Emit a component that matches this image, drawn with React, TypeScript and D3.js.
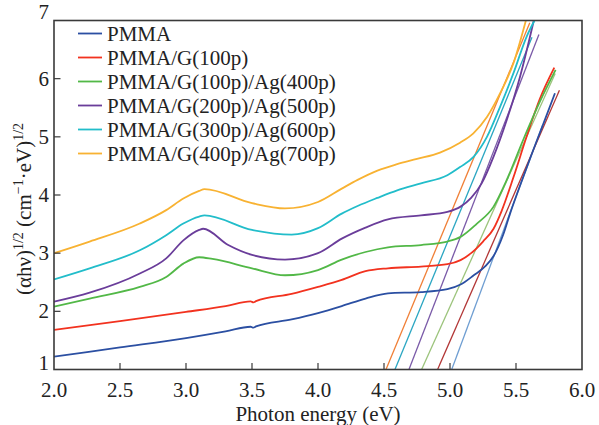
import React from "react";
import * as d3 from "d3";

// Tauc plot: (αhν)^1/2 versus photon energy for PMMA-based films
type Pt = [number, number];

const seriesNames = [
  "PMMA",
  "PMMA/G(100p)",
  "PMMA/G(100p)/Ag(400p)",
  "PMMA/G(200p)/Ag(500p)",
  "PMMA/G(300p)/Ag(600p)",
  "PMMA/G(400p)/Ag(700p)",
];

const pmma: Pt[] = [
  [2.0, 1.22], [2.5, 1.38], [3.0, 1.54], [3.3, 1.655], [3.49, 1.735], [3.51, 1.72],
  [3.53, 1.74], [3.8, 1.86], [4.0, 1.97], [4.18, 2.09], [4.36, 2.22], [4.53, 2.31],
  [4.78, 2.33], [4.98, 2.38], [5.08, 2.46], [5.18, 2.62], [5.27, 2.78], [5.33, 2.95],
  [5.4, 3.3], [5.455, 3.68], [5.54, 4.22], [5.63, 4.77], [5.72, 5.3], [5.795, 5.75],
];

const pmmaG100: Pt[] = [
  [2.0, 1.68], [2.5, 1.83], [3.0, 1.99], [3.3, 2.09], [3.49, 2.17], [3.51, 2.155],
  [3.53, 2.175], [3.8, 2.3], [4.0, 2.42], [4.18, 2.54], [4.36, 2.69], [4.53, 2.74],
  [4.78, 2.77], [4.98, 2.81], [5.08, 2.88], [5.16, 3.0], [5.25, 3.2], [5.33, 3.42],
  [5.39, 3.72], [5.48, 4.3], [5.58, 5.0], [5.68, 5.65], [5.79, 6.19],
];

const pmmaG100Ag400: Pt[] = [
  [2.0, 2.08], [2.27, 2.22], [2.65, 2.42], [2.85, 2.59], [2.98, 2.82], [3.1, 2.93],
  [3.2, 2.9], [3.5, 2.74], [3.75, 2.62], [4.0, 2.71], [4.18, 2.89], [4.36, 3.02],
  [4.53, 3.1], [4.78, 3.14], [4.98, 3.2], [5.08, 3.28], [5.2, 3.5], [5.33, 3.8],
  [5.43, 4.26], [5.555, 4.95], [5.68, 5.6], [5.8, 6.15],
];

const pmmaG200Ag500: Pt[] = [
  [2.0, 2.165], [2.27, 2.32], [2.65, 2.65], [2.85, 2.91], [2.98, 3.22], [3.1, 3.4],
  [3.13, 3.42], [3.32, 3.14], [3.5, 2.97], [3.75, 2.89], [4.0, 3.0], [4.18, 3.25],
  [4.36, 3.44], [4.53, 3.58], [4.78, 3.65], [4.98, 3.71], [5.08, 3.8], [5.16, 3.95],
  [5.24, 4.2], [5.33, 4.66], [5.43, 5.29], [5.53, 6.03], [5.635, 7.0],
];

const pmmaG300Ag600: Pt[] = [
  [2.0, 2.55], [2.27, 2.74], [2.65, 3.05], [2.85, 3.31], [2.98, 3.51], [3.1, 3.63],
  [3.14, 3.65], [3.5, 3.4], [3.8, 3.32], [4.0, 3.43], [4.18, 3.68], [4.3, 3.81],
  [4.45, 3.95], [4.6, 4.08], [4.78, 4.2], [4.98, 4.34], [5.076, 4.48], [5.18, 4.66],
  [5.28, 5.0], [5.38, 5.52], [5.48, 6.09], [5.58, 6.72], [5.64, 7.0],
];

const pmmaG400Ag700: Pt[] = [
  [2.0, 3.0], [2.27, 3.2], [2.65, 3.51], [2.85, 3.74], [2.98, 3.94], [3.1, 4.07],
  [3.14, 4.1], [3.5, 3.86], [3.75, 3.77], [4.0, 3.88], [4.18, 4.11], [4.3, 4.26],
  [4.45, 4.42], [4.6, 4.53], [4.75, 4.62], [4.924, 4.73], [5.076, 4.9], [5.177, 5.06],
  [5.28, 5.34], [5.38, 5.75], [5.48, 6.26], [5.575, 7.0],
];

const seriesData: Pt[][] = [pmma, pmmaG100, pmmaG100Ag400, pmmaG200Ag500, pmmaG300Ag600, pmmaG400Ag700];
const seriesColors = ["#2b4fa2", "#f2321f", "#52b847", "#6a3d9a", "#22bdca", "#f8b232"];

// Linear extrapolations of the absorption edges (one per film)
const edgeIntercepts = [5.013, 4.906, 4.785, 4.689, 4.583, 4.515];
const edgeSlopes = [6.1, 5.2, 5.03, 5.85, 5.5, 5.47];
const edgeTops = [5.2, 5.8, 6.09, 6.76, 6.71, 6.96];
const edgeColors = ["#6f9ed2", "#b23636", "#9cc47c", "#7a5aa8", "#2aa6c2", "#f07f36"];

const xTicks = [2.0, 2.5, 3.0, 3.5, 4.0, 4.5, 5.0, 5.5, 6.0];
const yTicks = [1, 2, 3, 4, 5, 6, 7];

const W = 599;
const H = 425;
const left = 54;
const right = 582;
const top = 20.5;
const bottom = 369.5;
const font = "'Liberation Serif', 'Times New Roman', serif";
const axisColor = "#3a3a3a";

// vertical placement of a y tick label's baseline; the end labels sit a bit higher
function yLabelBaseline(t: number, py: number): number {
  if (t === 7) return 18.5;
  if (t === 1) return 370;
  return py + 7;
}

export default function App() {
  const x = d3.scaleLinear().domain([2, 6]).range([left, right]);
  const y = d3.scaleLinear().domain([1, 7]).range([bottom, top]);
  const line = d3
    .line<Pt>()
    .x((d) => x(d[0]))
    .y((d) => y(d[1]))
    .curve(d3.curveMonotoneX);

  return (
    <svg
      width={W}
      height={H}
      style={{ position: "absolute", left: 0, top: 0, background: "#fff" }}
      fontFamily={font}
    >
      <defs>
        <clipPath id="plot-clip">
          <rect x={left} y={top} width={right - left} height={bottom - top} />
        </clipPath>
      </defs>

      <g clipPath="url(#plot-clip)">
        {edgeIntercepts.map((x0, i) => {
          const x1 = x0 + (edgeTops[i] - 1) / edgeSlopes[i];
          return (
            <line
              key={"edge" + i}
              x1={x(x0)}
              y1={y(1)}
              x2={x(x1)}
              y2={y(edgeTops[i])}
              stroke={edgeColors[i]}
              strokeWidth={1.3}
            />
          );
        })}
        {seriesData.map((pts, i) => (
          <path
            key={"s" + i}
            d={line(pts) || ""}
            fill="none"
            stroke={seriesColors[i]}
            strokeWidth={1.8}
          />
        ))}
      </g>

      {/* frame */}
      <rect
        x={left}
        y={top}
        width={right - left}
        height={bottom - top}
        fill="none"
        stroke={axisColor}
        strokeWidth={1.6}
      />

      {/* x ticks */}
      {xTicks.map((t) => (
        <g key={"xt" + t}>
          {t > 2 && t < 6 && (
            <line x1={x(t)} x2={x(t)} y1={bottom} y2={bottom - 6.5} stroke={axisColor} strokeWidth={1.2} />
          )}
          <text x={x(t)} y={397} fontSize={21} textAnchor="middle" fill="#222">
            {t.toFixed(1)}
          </text>
        </g>
      ))}

      {/* y ticks */}
      {yTicks.map((t) => (
        <g key={"yt" + t}>
          {t > 1 && t < 7 && (
            <line x1={left} x2={left + 6.5} y1={y(t)} y2={y(t)} stroke={axisColor} strokeWidth={1.2} />
          )}
          <text x={49} y={yLabelBaseline(t, y(t))} fontSize={21} textAnchor="end" fill="#222">
            {t}
          </text>
        </g>
      ))}

      {/* axis titles */}
      <text x={(left + right) / 2} y={421} fontSize={21} textAnchor="middle" fill="#222">
        Photon energy (eV)
      </text>
      <text
        transform={`translate(31, 209) rotate(-90)`}
        fontSize={21}
        textAnchor="middle"
        fill="#222"
      >
        (αhν)
        <tspan dy={-8} fontSize={14}>1/2</tspan>
        <tspan dy={8}> (cm</tspan>
        <tspan dy={-8} fontSize={14}>−1</tspan>
        <tspan dy={8}>·eV)</tspan>
        <tspan dy={-8} fontSize={14}>1/2</tspan>
      </text>

      {/* legend */}
      {seriesNames.map((name, i) => {
        const cy = 33.5 + i * 24;
        return (
          <g key={"lg" + i}>
            <line x1={78} x2={102} y1={cy} y2={cy} stroke={seriesColors[i]} strokeWidth={1.8} />
            <text x={107} y={cy + 7} fontSize={21} fill="#222">
              {name}
            </text>
          </g>
        );
      })}
    </svg>
  );
}
